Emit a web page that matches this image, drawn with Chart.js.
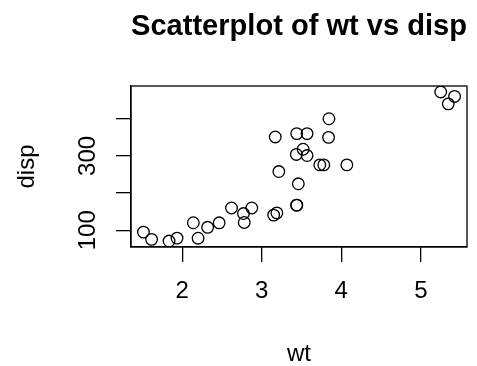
<!DOCTYPE html>
<html>
<head>
<meta charset="utf-8">
<script src="https://cdn.jsdelivr.net/npm/chart.js@4/dist/chart.umd.min.js"></script>
<style>
  html, body { margin: 0; padding: 0; background: #fff; }
  #wrap { width: 477px; height: 366px; }
</style>
</head>
<body>
<div id="wrap"><canvas id="plot" width="477" height="366"></canvas></div>
<script>
// mtcars: weight (1000 lbs) and displacement (cu.in.)
const wt = [2.620, 2.875, 2.320, 3.215, 3.440, 3.460, 3.570, 3.190, 3.150, 3.440, 3.440,
  4.070, 3.730, 3.780, 5.250, 5.424, 5.345, 2.200, 1.615, 1.835, 2.465, 3.520, 3.435,
  3.840, 3.845, 1.935, 2.140, 1.513, 3.170, 2.770, 3.570, 2.780];
const disp = [160, 160, 108, 258, 360, 225, 360, 146.7, 140.8, 167.6, 167.6,
  275.8, 275.8, 275.8, 472, 460, 440, 78.7, 75.7, 71.1, 120.1, 318, 304,
  350, 400, 79, 120.3, 95.1, 351, 145, 301, 121];
const xTicks = [2, 3, 4, 5];
const yTicks = [100, 200, 300, 400];
const yLabelled = [100, 300];

// R style axis range: data range stretched 4% each side
function pad4(arr) {
  const lo = Math.min(...arr), hi = Math.max(...arr);
  const d = (hi - lo) * 0.04;
  return [lo - d, hi + d];
}
const xRange = pad4(wt);
const yRange = pad4(disp);

const points = wt.map((w, i) => ({ x: w, y: disp[i] }));
const FONT = "'Liberation Sans', Arial, Helvetica, sans-serif";

// box round the plot region (R's box())
const boxPlugin = {
  id: "box",
  afterDraw(chart) {
    const a = chart.chartArea;
    const ctx = chart.ctx;
    ctx.save();
    ctx.strokeStyle = "#000";
    ctx.lineWidth = 1.3;
    ctx.strokeRect(a.left, a.top, a.right - a.left, a.bottom - a.top);
    ctx.restore();
  }
};

new Chart(document.getElementById("plot"), {
  type: "scatter",
  data: {
    datasets: [{
      label: "disp",
      data: points,
      pointStyle: "circle",
      pointRadius: 5.8,
      pointHoverRadius: 5.8,
      pointBorderWidth: 1.3,
      borderColor: "#000",
      backgroundColor: "rgba(0,0,0,0)"
    }]
  },
  options: {
    responsive: false,
    animation: false,
    events: [],
    layout: { padding: { top: 0, left: 0, right: 10, bottom: 0 } },
    plugins: {
      legend: { display: false },
      tooltip: { enabled: false },
      title: {
        display: true,
        fullSize: false,
        text: "Scatterplot of wt vs disp",
        color: "#000",
        font: { family: FONT, size: 30, weight: "bold" },
        padding: { top: 9, bottom: 41 }
      }
    },
    scales: {
      x: {
        type: "linear",
        min: xRange[0],
        max: xRange[1],
        afterBuildTicks: (s) => { s.ticks = xTicks.map((v) => ({ value: v })); },
        afterFit: (s) => { s.height = 119; },
        grid: { drawOnChartArea: false, tickLength: 15, color: "#000", lineWidth: 1.3 },
        border: { color: "#000", width: 1.3 },
        ticks: { color: "#000", padding: 15, font: { family: FONT, size: 24 }, maxRotation: 0 },
        title: {
          display: true, text: "wt", color: "#000",
          font: { family: FONT, size: 24 },
          padding: { top: 0, bottom: -3 }
        }
      },
      y: {
        type: "linear",
        min: yRange[0],
        max: yRange[1],
        afterBuildTicks: (s) => { s.ticks = yTicks.map((v) => ({ value: v })); },
        afterFit: (s) => { s.width = 131; },
        grid: { drawOnChartArea: false, tickLength: 15, color: "#000", lineWidth: 1.3 },
        border: { color: "#000", width: 1.3 },
        ticks: {
          color: "#000", padding: 8, crossAlign: "center",
          minRotation: 90, maxRotation: 90,
          font: { family: FONT, size: 24 },
          callback: (v) => (yLabelled.includes(v) ? String(v) : "")
        },
        title: {
          display: true, text: "disp", color: "#000",
          font: { family: FONT, size: 24 },
          padding: { top: 13, bottom: 0 }
        }
      }
    }
  },
  plugins: [boxPlugin]
});
</script>
</body>
</html>
